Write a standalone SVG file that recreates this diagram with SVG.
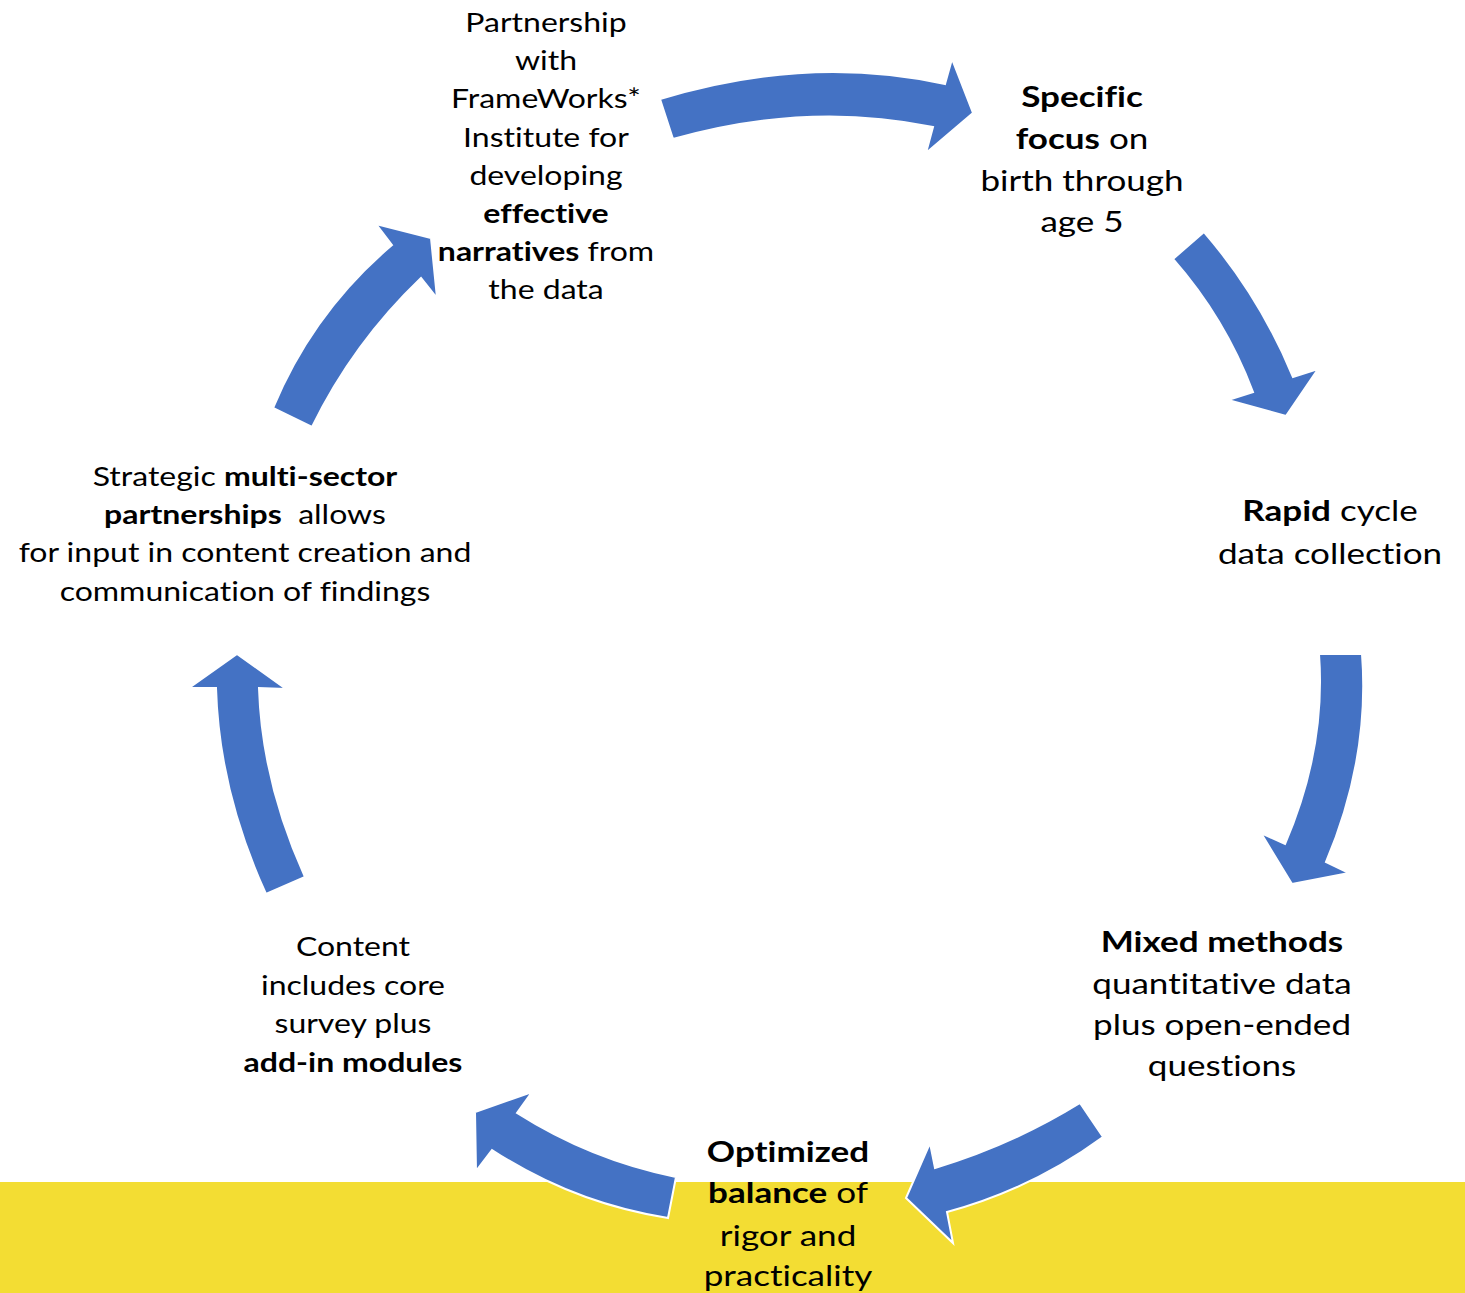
<svg xmlns="http://www.w3.org/2000/svg" width="1465" height="1293" viewBox="0 0 1465 1293">
<style>
  .arrow { fill: #4472C4; stroke: #FFFFFF; stroke-width: 2; stroke-linejoin: miter; }
  .t { font-family: Lato, "Liberation Sans", sans-serif; fill: #000000; text-anchor: middle; font-variant-ligatures: none; font-feature-settings: "liga" 0, "clig" 0; }
  .a { font-size: 27px; }
  .b { font-size: 28.5px; }
  .bold { font-weight: bold; }
</style>
<rect x="0" y="1182" width="1465" height="111" fill="#F3DD33"/>
<g id="connectors">
  <path class="arrow" d="M 660,99 Q 807,54 945,84 L 952,59 L 973,113 L 926,153 L 933,127 Q 807,101 673,139 Z"/>
  <path class="arrow" d="M 1173,259 L 1204,232 Q 1260,297 1293,377 L 1318,369 L 1286,416 L 1228,400 L 1253,392 Q 1225,318 1173,259 Z"/>
  <path class="arrow" d="M 1319,654 L 1362,654 Q 1370,758 1326,862 L 1349,873 L 1292,884 L 1261,833 L 1285,844 Q 1326,749 1319,654 Z"/>
  <path class="arrow" d="M 1080,1103 L 1103,1137 Q 1032,1189 947,1212 L 953,1243 L 906,1198 L 930,1143 L 935,1168 Q 1012,1145 1080,1103 Z"/>
  <path class="arrow" d="M 676,1177 L 668,1218 Q 573,1203 492,1150 L 476,1171 L 475,1112 L 532,1092 L 517,1113 Q 591,1160 676,1177 Z"/>
  <path class="arrow" d="M 266,894 Q 219,791 216,688 L 189,688 L 237,654 L 286,689 L 259,688 Q 262,782 305,877 Z"/>
  <path class="arrow" d="M 273,408 Q 313,312 392,245 L 376,224 L 431,238 L 437,298 L 421,278 Q 353,343 312,427 Z"/>
</g>
<g id="node-partnership" transform="translate(546,0) scale(1.185,1)">
  <text class="t a" x="0" y="32">Partnership</text>
  <text class="t a" x="0" y="70.5">with</text>
  <text class="t a" x="0" y="108.5">FrameWorks*</text>
  <text class="t a" x="0" y="147">Institute for</text>
  <text class="t a" x="0" y="185">developing</text>
  <text class="t a bold" x="0" y="223.5">effective</text>
  <text class="t a" x="0" y="261.5"><tspan class="bold">narratives</tspan> from</text>
  <text class="t a" x="0" y="299.5">the data</text>
</g>
<g id="node-specific" transform="translate(1082,0) scale(1.23,1)">
  <text class="t b bold" x="0" y="107">Specific</text>
  <text class="t b" x="0" y="149"><tspan class="bold">focus</tspan> on</text>
  <text class="t b" x="0" y="191">birth through</text>
  <text class="t b" x="0" y="232">age 5</text>
</g>
<g id="node-rapid" transform="translate(1330,0) scale(1.23,1)">
  <text class="t b" x="0" y="521.5"><tspan class="bold">Rapid</tspan> cycle</text>
  <text class="t b" x="0" y="564.5">data collection</text>
</g>
<g id="node-mixed" transform="translate(1222,0) scale(1.23,1)">
  <text class="t b bold" x="0" y="952.5">Mixed methods</text>
  <text class="t b" x="0" y="994">quantitative data</text>
  <text class="t b" x="0" y="1035">plus open-ended</text>
  <text class="t b" x="0" y="1076">questions</text>
</g>
<g id="node-optimized" transform="translate(788,0) scale(1.23,1)">
  <text class="t b bold" x="0" y="1162">Optimized</text>
  <text class="t b" x="0" y="1203.5"><tspan class="bold">balance</tspan> of</text>
  <text class="t b" x="0" y="1246">rigor and</text>
  <text class="t b" x="0" y="1286">practicality</text>
</g>
<g id="node-content" transform="translate(353,0) scale(1.185,1)">
  <text class="t a" x="0" y="956.5">Content</text>
  <text class="t a" x="0" y="995.5">includes core</text>
  <text class="t a" x="0" y="1033.5">survey plus</text>
  <text class="t a bold" x="0" y="1072.5">add-in modules</text>
</g>
<g id="node-strategic" transform="translate(245,0) scale(1.185,1)">
  <text class="t a" x="0" y="486">Strategic <tspan class="bold">multi-sector</tspan></text>
  <text class="t a" x="0" y="524"><tspan class="bold">partnerships</tspan>&#160; allows</text>
  <text class="t a" x="0" y="562">for input in content creation and</text>
  <text class="t a" x="0" y="601">communication of findings</text>
</g>
</svg>
